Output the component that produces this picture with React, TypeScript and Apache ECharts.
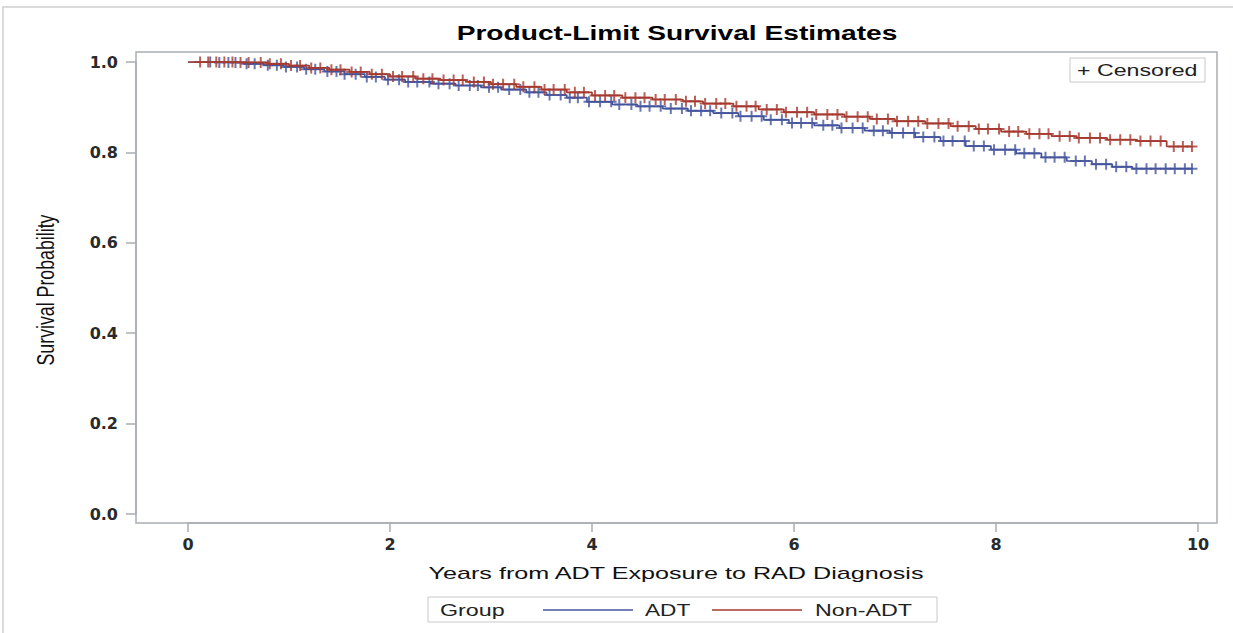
import React, { useEffect, useRef } from "react";
import * as echarts from "echarts";

// ---- Data ----
const adtTimes = [0, 0.3, 0.55, 0.75, 0.95, 1.15, 1.35, 1.55, 1.75, 1.95, 2.15, 2.4, 2.65, 2.9, 3.1, 3.35, 3.55, 3.75, 3.95, 4.2, 4.45, 4.7, 4.95, 5.2, 5.45, 5.7, 5.95, 6.2, 6.45, 6.7, 6.95, 7.2, 7.45, 7.7, 7.95, 8.2, 8.45, 8.7, 8.95, 9.15, 9.35, 9.95];
const adtSurv = [1.0, 0.999, 0.996, 0.993, 0.989, 0.984, 0.979, 0.973, 0.967, 0.961, 0.956, 0.952, 0.948, 0.944, 0.939, 0.933, 0.927, 0.921, 0.912, 0.906, 0.902, 0.897, 0.892, 0.887, 0.88, 0.872, 0.865, 0.86, 0.854, 0.848, 0.843, 0.834, 0.825, 0.814, 0.806, 0.798, 0.789, 0.781, 0.774, 0.768, 0.764, 0.764];

const nonTimes = [0, 0.5, 0.8, 1.0, 1.2, 1.4, 1.6, 1.8, 2.0, 2.25, 2.5, 2.75, 3.0, 3.25, 3.5, 3.75, 4.0, 4.3, 4.6, 4.9, 5.1, 5.4, 5.65, 5.9, 6.2, 6.5, 6.75, 7.0, 7.3, 7.55, 7.8, 8.05, 8.3, 8.55, 8.8, 9.1, 9.4, 9.69, 9.95];
const nonSurv = [1.0, 0.999, 0.996, 0.992, 0.987, 0.983, 0.978, 0.973, 0.968, 0.963, 0.96, 0.956, 0.951, 0.945, 0.939, 0.933, 0.926, 0.921, 0.917, 0.913, 0.908, 0.902, 0.895, 0.889, 0.884, 0.879, 0.874, 0.869, 0.864, 0.858, 0.852, 0.846, 0.841, 0.836, 0.832, 0.828, 0.825, 0.813, 0.813];

const adtCensor = [0.22, 0.31, 0.4, 0.47, 0.58, 0.66, 0.79, 0.88, 0.97, 1.08, 1.17, 1.26, 1.38, 1.47, 1.55, 1.66, 1.77, 1.86, 1.98, 2.09, 2.18, 2.27, 2.39, 2.48, 2.59, 2.68, 2.79, 2.87, 2.98, 3.07, 3.18, 3.29, 3.38, 3.47, 3.58, 3.69, 3.78, 3.86, 3.97, 4.08, 4.19, 4.27, 4.39, 4.48, 4.57, 4.68, 4.78, 4.89, 4.98, 5.08, 5.17, 5.28, 5.39, 5.47, 5.58, 5.68, 5.77, 5.88, 5.98, 6.07, 6.18, 6.29, 6.38, 6.47, 6.58, 6.68, 6.79, 6.88, 6.97, 7.08, 7.19, 7.28, 7.39, 7.48, 7.57, 7.69, 7.78, 7.88, 7.98, 8.09, 8.19, 8.28, 8.38, 8.49, 8.58, 8.68, 8.79, 8.88, 8.99, 9.09, 9.19, 9.29, 9.39, 9.49, 9.58, 9.68, 9.77, 9.87, 9.94];
const nonCensor = [0.12, 0.2, 0.28, 0.36, 0.44, 0.52, 0.6, 0.72, 0.81, 0.92, 1.02, 1.11, 1.22, 1.31, 1.42, 1.51, 1.62, 1.71, 1.82, 1.92, 2.03, 2.12, 2.23, 2.33, 2.42, 2.53, 2.63, 2.72, 2.83, 2.93, 3.02, 3.12, 3.23, 3.32, 3.43, 3.53, 3.62, 3.73, 3.83, 3.92, 4.03, 4.13, 4.22, 4.33, 4.43, 4.52, 4.63, 4.72, 4.83, 4.93, 5.02, 5.12, 5.23, 5.32, 5.43, 5.53, 5.62, 5.73, 5.83, 5.92, 6.03, 6.13, 6.22, 6.33, 6.43, 6.52, 6.63, 6.73, 6.82, 6.93, 7.02, 7.13, 7.23, 7.32, 7.43, 7.53, 7.62, 7.73, 7.83, 7.92, 8.03, 8.13, 8.22, 8.33, 8.43, 8.52, 8.63, 8.73, 8.82, 8.93, 9.03, 9.13, 9.23, 9.33, 9.43, 9.53, 9.63, 9.76, 9.85, 9.94];

const groupNames = ["ADT", "Non-ADT"];
const xTicks = { min: 0, max: 10, interval: 2 };
const yTicks = { min: 0, max: 1, interval: 0.2 };

const BLUE = "#44549C";
const RED = "#A53A2F";
const PLUS = "path://M4.1,0 L5.9,0 L5.9,4.1 L10,4.1 L10,5.9 L5.9,5.9 L5.9,10 L4.1,10 L4.1,5.9 L0,5.9 L0,4.1 L4.1,4.1 Z";

function survAt(times: number[], surv: number[], t: number) {
  let s = surv[0];
  for (let i = 0; i < times.length; i++) {
    if (times[i] <= t) s = surv[i];
  }
  return s;
}

export default function App() {
  const ref = useRef<HTMLDivElement>(null);
  useEffect(() => {
    if (!ref.current) return;
    const chart = echarts.init(ref.current, undefined, { renderer: "svg" });
    const font = "Liberation Sans, Arial, sans-serif";
    const tickFont = "DejaVu Sans, sans-serif";
    const axisGray = "#A9ADB2";
    const boxGray = "#C8C8C8";
    chart.setOption({
      animation: false,
      backgroundColor: "#fff",
      textStyle: { fontFamily: font },
      grid: { left: 188, right: 35, top: 62, bottom: 119, containLabel: false },
      legend: { show: false, data: groupNames },
      xAxis: {
        type: "value",
        min: xTicks.min,
        max: xTicks.max,
        interval: xTicks.interval,
        offset: 9,
        axisLine: { show: true, onZero: false, lineStyle: { color: axisGray, width: 1.5 } },
        axisTick: { show: true, length: 9, lineStyle: { color: axisGray, width: 1.5 } },
        axisLabel: { fontSize: 16, fontWeight: "bold", color: "#2a2a2a", margin: 13, fontFamily: tickFont },
        splitLine: { show: false },
      },
      yAxis: {
        type: "value",
        min: yTicks.min,
        max: yTicks.max,
        interval: yTicks.interval,
        offset: 52,
        axisLine: { show: true, onZero: false, lineStyle: { color: axisGray, width: 1.5 } },
        axisTick: { show: true, length: 10, lineStyle: { color: axisGray, width: 1.5 } },
        axisLabel: {
          fontSize: 16,
          fontWeight: "bold",
          color: "#2a2a2a",
          margin: 18,
          fontFamily: tickFont,
          formatter: (v: number) => v.toFixed(1),
        },
        splitLine: { show: false },
      },
      graphic: [
        { type: "rect", silent: true, shape: { x: 3, y: 7, width: 1300, height: 700 }, style: { fill: "none", stroke: "#CFCFCF", lineWidth: 1.5 } },
        { type: "rect", silent: true, shape: { x: 136, y: 52, width: 1081, height: 471 }, style: { fill: "none", stroke: axisGray, lineWidth: 1.5 } },
        { type: "text", x: 677, y: 33, scaleX: 1.34, style: { text: "Product-Limit Survival Estimates", align: "center", verticalAlign: "middle", font: "bold 21px Liberation Sans, Arial, sans-serif", fill: "#000" } },
        { type: "text", x: 676, y: 573, scaleX: 1.48, style: { text: "Years from ADT Exposure to RAD Diagnosis", align: "center", verticalAlign: "middle", font: "17px Liberation Sans, Arial, sans-serif", fill: "#111" } },
        { type: "text", x: 45, y: 290, rotation: Math.PI / 2, scaleX: 0.74, style: { text: "Survival Probability", align: "center", verticalAlign: "middle", font: "24px Liberation Sans, Arial, sans-serif", fill: "#111" } },
        { type: "rect", silent: true, shape: { x: 1070, y: 58, width: 135, height: 24 }, style: { fill: "#fff", stroke: boxGray, lineWidth: 1 } },
        { type: "text", x: 1077, y: 70, scaleX: 1.45, style: { text: "+ Censored", verticalAlign: "middle", font: "16px Liberation Sans, Arial, sans-serif", fill: "#222" } },
        { type: "rect", silent: true, shape: { x: 428, y: 597, width: 509, height: 25 }, style: { fill: "none", stroke: boxGray, lineWidth: 1 } },
        { type: "text", x: 440, y: 610, scaleX: 1.37, style: { text: "Group", verticalAlign: "middle", font: "17px Liberation Sans, Arial, sans-serif", fill: "#222" } },
        { type: "line", silent: true, shape: { x1: 543, y1: 610, x2: 633, y2: 610 }, style: { stroke: BLUE, lineWidth: 1.5 } },
        { type: "text", x: 645, y: 610, scaleX: 1.33, style: { text: groupNames[0], verticalAlign: "middle", font: "17px Liberation Sans, Arial, sans-serif", fill: "#222" } },
        { type: "line", silent: true, shape: { x1: 712, y1: 610, x2: 802, y2: 610 }, style: { stroke: RED, lineWidth: 1.5 } },
        { type: "text", x: 815, y: 610, scaleX: 1.37, style: { text: groupNames[1], verticalAlign: "middle", font: "17px Liberation Sans, Arial, sans-serif", fill: "#222" } },
      ],
      series: [
        {
          name: groupNames[0],
          type: "line",
          step: "end",
          showSymbol: false,
          color: BLUE,
          lineStyle: { color: BLUE, width: 1.7 },
          data: adtTimes.map((t, i) => [t, adtSurv[i]]),
          z: 2,
        },
        {
          name: "ADT censored",
          type: "scatter",
          symbol: PLUS,
          symbolSize: 11,
          itemStyle: { color: BLUE },
          data: adtCensor.map((t) => [t, survAt(adtTimes, adtSurv, t)]),
          z: 3,
        },
        {
          name: groupNames[1],
          type: "line",
          step: "end",
          showSymbol: false,
          color: RED,
          lineStyle: { color: RED, width: 1.7 },
          data: nonTimes.map((t, i) => [t, nonSurv[i]]),
          z: 4,
        },
        {
          name: "Non-ADT censored",
          type: "scatter",
          symbol: PLUS,
          symbolSize: 11,
          itemStyle: { color: RED },
          data: nonCensor.map((t) => [t, survAt(nonTimes, nonSurv, t)]),
          z: 5,
        },
      ],
    });
    return () => chart.dispose();
  }, []);
  return <div ref={ref} style={{ position: "absolute", left: 0, top: 0, width: 1233, height: 633 }} />;
}
